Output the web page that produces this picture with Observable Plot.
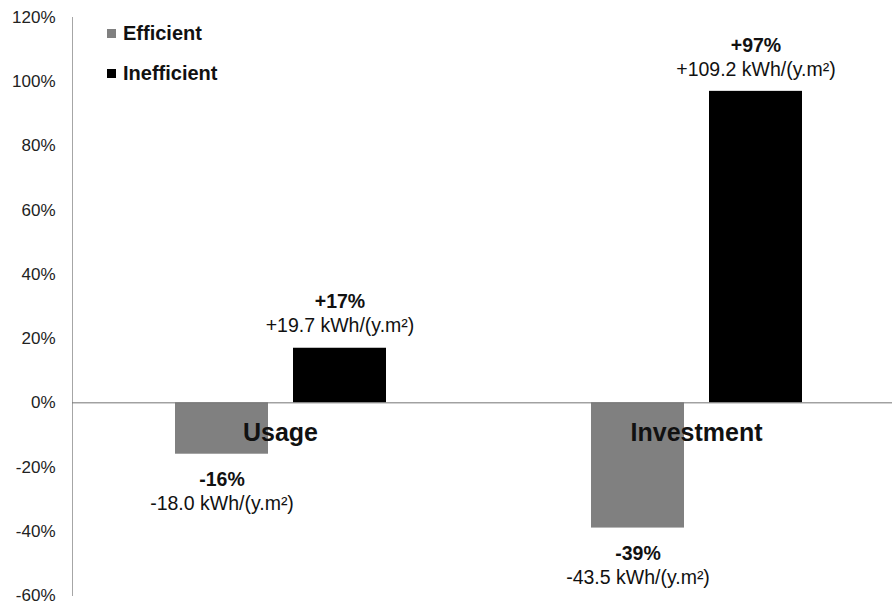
<!DOCTYPE html>
<html>
<head>
<meta charset="utf-8">
<script src="https://cdn.jsdelivr.net/npm/d3@7"></script>
<script src="https://cdn.jsdelivr.net/npm/@observablehq/plot@0.6"></script>
<style>
  html, body { margin: 0; padding: 0; background: #fff; }
  #chart { position: relative; width: 892px; height: 604px; font-family: "Liberation Sans", Arial, sans-serif; }
  #legend { position: absolute; left: 107px; top: 21px; }
  .item { display: flex; align-items: center; height: 24px; margin-bottom: 16px; font-weight: bold; font-size: 20px; color: #111; }
  .swatch { width: 9px; height: 9px; margin-right: 7px; }
</style>
</head>
<body>
<div id="chart"></div>
<script>
// Change in energy relative to the reference, per behaviour group
const groups = ["Usage", "Investment"];
const series = ["Efficient", "Inefficient"];
const colors = ["#808080", "#000000"];
// percentage change, [Efficient, Inefficient] per group
const pctUsage = [-16, 17];
const pctInvestment = [-39, 97];
// absolute change in kWh/(y.m²)
const kwhUsage = [-18.0, 19.7];
const kwhInvestment = [-43.5, 109.2];
const yTicks = [-60, -40, -20, 0, 20, 40, 60, 80, 100, 120];

const pctByGroup = {Usage: pctUsage, Investment: pctInvestment};
const kwhByGroup = {Usage: kwhUsage, Investment: kwhInvestment};
const rows = groups.flatMap(g => series.map((s, i) => ({
  group: g, series: s, pct: pctByGroup[g][i], kwh: kwhByGroup[g][i]
})));

const sign = v => (v > 0 ? "+" : "");
const pctText = d => `${sign(d.pct)}${d.pct}%`;
const kwhText = d => `${sign(d.kwh)}${d.kwh.toFixed(1)} kWh/(y.m²)`;
const pos = d => d.pct >= 0;
const neg = d => d.pct < 0;
const font = "Liberation Sans, Arial, sans-serif";

const chart = Plot.plot({
  width: 892,
  height: 604,
  marginTop: 17,
  marginBottom: 9,
  marginLeft: 72,
  marginRight: 0,
  style: {fontFamily: font, fontSize: "17px", color: "#222", background: "#fff"},
  fx: {domain: groups, range: [72, 904], padding: 0, axis: null},
  x: {domain: series, paddingInner: 0.213, paddingOuter: 0.862, axis: null},
  y: {domain: [-60, 120], axis: null},
  color: {domain: series, range: colors},
  marks: [
    Plot.frame({anchor: "left", facetAnchor: "left", stroke: "#a6a6a6"}),
    Plot.axisY({ticks: yTicks, tickFormat: d => `${d}%`, tickSize: 0, tickPadding: 17, label: null, fill: "#222"}),
    Plot.barY(rows, {fx: "group", x: "series", y: "pct", fill: "series"}),
    Plot.ruleY([0], {stroke: "#737373", strokeWidth: 1}),
    // category names sit just under the zero line
    Plot.text(groups, {fx: d => d, y: () => 0, text: d => d, frameAnchor: "middle",
      dy: 30, fontSize: 25, fontWeight: "bold", fill: "#111"}),
    // value labels above positive bars
    Plot.text(rows, {filter: pos, fx: "group", x: "series", y: "pct", text: pctText,
      dy: -46, fontSize: 19.5, fontWeight: "bold", fill: "#111"}),
    Plot.text(rows, {filter: pos, fx: "group", x: "series", y: "pct", text: kwhText,
      dy: -22, fontSize: 19.5, fill: "#111"}),
    // value labels below negative bars
    Plot.text(rows, {filter: neg, fx: "group", x: "series", y: "pct", text: pctText,
      dy: 26, fontSize: 19.5, fontWeight: "bold", fill: "#111"}),
    Plot.text(rows, {filter: neg, fx: "group", x: "series", y: "pct", text: kwhText,
      dy: 50, fontSize: 19.5, fill: "#111"})
  ]
});

const root = document.getElementById("chart");
root.appendChild(chart);

const legend = document.createElement("div");
legend.id = "legend";
series.forEach((s, i) => {
  const item = document.createElement("div");
  item.className = "item";
  const sw = document.createElement("span");
  sw.className = "swatch";
  sw.style.background = colors[i];
  const label = document.createElement("span");
  label.textContent = s;
  item.append(sw, label);
  legend.appendChild(item);
});
root.appendChild(legend);
</script>
</body>
</html>
